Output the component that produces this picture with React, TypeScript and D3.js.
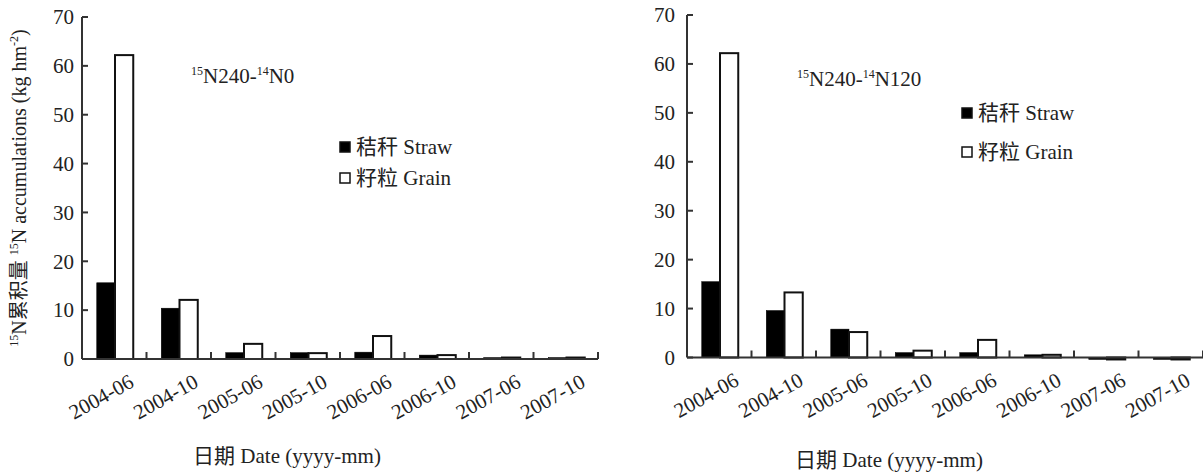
import React from 'react';
import * as d3 from 'd3';

const categories = ['2004-06', '2004-10', '2005-06', '2005-10', '2006-06', '2006-10', '2007-06', '2007-10'];
const leftStraw = [15.6, 10.4, 1.3, 1.3, 1.4, 0.8, 0.3, 0.3];
const leftGrain = [62.2, 12.1, 3.1, 1.2, 4.7, 0.8, 0.3, 0.3];
const rightStraw = [15.5, 9.6, 5.8, 1.0, 1.0, 0.55, -0.4, -0.4];
const rightGrain = [62.2, 13.3, 5.2, 1.4, 3.6, 0.55, -0.4, -0.4];
const yTicks = [0, 10, 20, 30, 40, 50, 60, 70];
const seriesKeys = ['straw', 'grain'];
const legendLabels = ['秸秆 Straw', '籽粒 Grain'];

const FONT = '"Liberation Serif", "Times New Roman", "Noto Sans CJK SC", serif';
const INK = '#222';

type PanelProps = {
  straw: number[];
  grain: number[];
  x0: number;
  x1: number;
  yTop: number;
  yBase: number;
  tickGap: number;
  title: [string, string, string, string];
  titleX: number;
  titleY: number;
  legendX: number;
  legendY: [number, number];
  xTitleX: number;
  xTitleY: number;
};

function Panel(p: PanelProps) {
  const x = d3.scaleBand<string>().domain(categories).range([p.x0, p.x1]).paddingInner(0).paddingOuter(0);
  const y = d3.scaleLinear().domain([0, 70]).range([p.yBase, p.yTop]);
  const groupW = 36.5;
  const xs = d3.scaleBand<string>().domain(seriesKeys).range([0, groupW]);
  const bw = xs.bandwidth();
  const vals: Record<string, number[]> = { straw: p.straw, grain: p.grain };
  const boundaries = d3.range(1, categories.length + 1).map((i) => p.x0 + i * x.step());

  return (
    <g fontFamily={FONT} fill={INK}>
      {categories.map((c, i) => {
        const cx = (x(c) as number) + x.bandwidth() / 2;
        const gx = cx - 17.5;
        return (
          <g key={c}>
            {seriesKeys.map((k) => {
              const v = vals[k][i];
              const top = Math.min(y(v), y(0));
              const h = Math.abs(y(v) - y(0));
              return (
                <rect
                  key={k}
                  x={gx + (xs(k) as number)}
                  y={top}
                  width={bw}
                  height={Math.max(h, 0.5)}
                  fill={k === 'straw' ? '#000' : '#fff'}
                  stroke={k === 'straw' ? '#000' : '#111'}
                  strokeWidth={k === 'straw' ? 0.5 : 2}
                />
              );
            })}
          </g>
        );
      })}
      <line x1={p.x0} x2={p.x0} y1={p.yTop} y2={p.yBase} stroke="#333" strokeWidth={2} />
      {yTicks.map((t) => (
        <g key={t}>
          <line x1={p.x0} x2={p.x0 + 6} y1={y(t)} y2={y(t)} stroke="#333" strokeWidth={2} />
          <text x={p.x0 - p.tickGap} y={y(t)} dy="0.35em" textAnchor="end" fontSize={21} fill={INK}>
            {t}
          </text>
        </g>
      ))}
      <line x1={p.x0} x2={p.x1} y1={p.yBase} y2={p.yBase} stroke="#333" strokeWidth={2} />
      {boundaries.map((bx, i) => (
        <line key={i} x1={bx} x2={bx} y1={p.yBase} y2={p.yBase - 7} stroke="#333" strokeWidth={2} />
      ))}
      {categories.map((c) => {
        const cx = (x(c) as number) + x.bandwidth() / 2;
        return (
          <text
            key={c}
            transform={`translate(${cx + 21},${p.yBase + 27}) rotate(-29)`}
            textAnchor="end"
            fontSize={21}
            fill={INK}
          >
            {c}
          </text>
        );
      })}
      <text x={p.titleX} y={p.titleY} fontSize={21} fill={INK}>
        <tspan fontSize={12} dy={-8}>{p.title[0]}</tspan>
        <tspan dy={8}>{p.title[1]}</tspan>
        <tspan fontSize={12} dy={-8}>{p.title[2]}</tspan>
        <tspan dy={8}>{p.title[3]}</tspan>
      </text>
      {seriesKeys.map((k, i) => (
        <g key={k}>
          <rect
            x={p.legendX}
            y={p.legendY[i] - 5}
            width={10}
            height={10}
            fill={k === 'straw' ? '#000' : '#fff'}
            stroke="#111"
            strokeWidth={1.5}
          />
          <text x={p.legendX + 16} y={p.legendY[i]} dy="0.35em" fontSize={21} fill={INK}>
            {legendLabels[i]}
          </text>
        </g>
      ))}
      <text x={p.xTitleX} y={p.xTitleY} textAnchor="middle" fontSize={21} fill={INK}>
        日期 Date (yyyy-mm)
      </text>
    </g>
  );
}

export default function App() {
  return (
    <svg
      width={1203}
      height={473}
      style={{ position: 'absolute', left: 0, top: 0, background: '#fff' }}
    >
      <rect width={1203} height={473} fill="#fff" />
      <Panel
        straw={leftStraw}
        grain={leftGrain}
        x0={82}
        x1={598}
        yTop={17}
        yBase={359}
        tickGap={8}
        title={['15', 'N240-', '14', 'N0']}
        titleX={191}
        titleY={83}
        legendX={340}
        legendY={[147, 178]}
        xTitleX={287}
        xTitleY={463}
      />
      <Panel
        straw={rightStraw}
        grain={rightGrain}
        x0={687}
        x1={1203}
        yTop={15}
        yBase={357.5}
        tickGap={12}
        title={['15', 'N240-', '14', 'N120']}
        titleX={797}
        titleY={86}
        legendX={962}
        legendY={[113, 152]}
        xTitleX={889}
        xTitleY={467}
      />
      <text
        transform="translate(26,188) rotate(-90)"
        textAnchor="middle"
        fontFamily={FONT}
        fontSize={20}
        fill={INK}
      >
        <tspan fontSize={12} dy={-8} fill={INK}>15</tspan>
        <tspan dy={8} fill={INK}>N累积量 </tspan>
        <tspan fontSize={12} dy={-8} fill={INK}>15</tspan>
        <tspan dy={8} fill={INK}>N accumulations (kg hm</tspan>
        <tspan fontSize={12} dy={-8} fill={INK}>-2</tspan>
        <tspan dy={8} fill={INK}>)</tspan>
      </text>
    </svg>
  );
}
